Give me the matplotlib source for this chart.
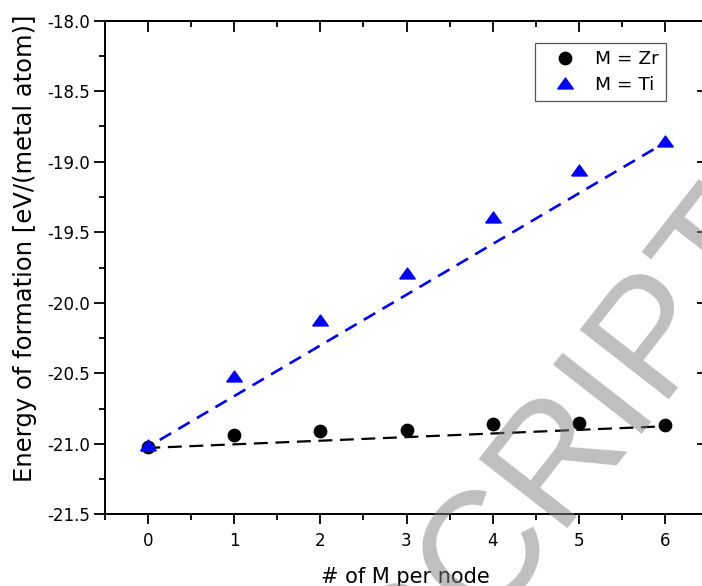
import matplotlib
matplotlib.use("Agg")
import matplotlib.pyplot as plt
from matplotlib.ticker import MultipleLocator, FormatStrFormatter, NullFormatter

plt.rcParams['axes.unicode_minus'] = False
plt.rcParams['lines.scale_dashes'] = False
plt.rcParams['font.family'] = ['DejaVu Sans']

# ---- data ----
n_metal = [0, 1, 2, 3, 4, 5, 6]
energy_zr = [-21.02, -20.94, -20.91, -20.90, -20.86, -20.85, -20.87]
energy_ti = [-21.01, -20.52, -20.12, -19.79, -19.39, -19.06, -18.85]
fit_zr_x = [-0.02, 6.03]
fit_zr_y = [-21.03, -20.875]
fit_ti_x = [-0.08, 5.93]
fit_ti_y = [-21.05, -18.89]
label_zr = "M = Zr"
label_ti = "M = Ti"
xlabel = "# of M per node"
ylabel = "Energy of formation [eV/(metal atom)]"
watermark = "ACCEPTED MANUSCRIPT"

W, H = 702, 586
fig = plt.figure(figsize=(W / 100, H / 100), dpi=100)
ax = fig.add_axes([105 / W, (H - 514.3) / H, 603 / W, 493.6 / H])

ax.set_xlim(-0.5, 6.5)
ax.set_ylim(-21.5, -18.0)

# fit lines
ax.plot(fit_ti_x, fit_ti_y, color='#0000ff', lw=1.9, dashes=(9.5, 6.0), zorder=2)
ax.plot(fit_zr_x, fit_zr_y, color='black', lw=1.6, dashes=(10, 5.5), zorder=2)

tri = [(-1, -0.7), (1, -0.7), (0, 0.7), (-1, -0.7)]
h_zr, = ax.plot(n_metal, energy_zr, linestyle='none', marker='o', ms=8.9,
                color='black', label=label_zr, zorder=3)
h_ti, = ax.plot(n_metal, energy_ti, linestyle='none', marker=tri, ms=11.2,
                color='#0000ff', label=label_ti, zorder=3)

# ticks
ax.xaxis.set_major_locator(MultipleLocator(1))
ax.xaxis.set_minor_locator(MultipleLocator(0.5))
ax.yaxis.set_major_locator(MultipleLocator(0.5))
ax.yaxis.set_minor_locator(MultipleLocator(0.25))
ax.yaxis.set_major_formatter(FormatStrFormatter('%.1f'))
ax.tick_params(which='both', direction='out', width=1.3, top=False, right=False,
               labelsize=12, colors='black')
ax.tick_params(axis='y', which='major', length=8, pad=3.0)
ax.tick_params(axis='y', which='minor', length=4.5)
ax.tick_params(axis='x', which='major', length=7.5, pad=5.5)
ax.tick_params(axis='x', which='minor', length=4)
for s in ax.spines.values():
    s.set_linewidth(1.4)

sec_x = ax.secondary_xaxis('top')
sec_x.xaxis.set_major_locator(MultipleLocator(1))
sec_x.xaxis.set_minor_locator(MultipleLocator(0.5))
sec_x.xaxis.set_major_formatter(NullFormatter())
sec_x.tick_params(which='both', direction='in', width=1.3)
sec_x.tick_params(which='major', length=8)
sec_x.tick_params(which='minor', length=4.5)
sec_x.spines['top'].set_linewidth(1.4)

sec_y = ax.secondary_yaxis('right')
sec_y.yaxis.set_major_locator(MultipleLocator(0.5))
sec_y.yaxis.set_minor_locator(MultipleLocator(0.25))
sec_y.yaxis.set_major_formatter(NullFormatter())
sec_y.tick_params(which='both', direction='in', width=1.3)
sec_y.tick_params(which='major', length=8)
sec_y.tick_params(which='minor', length=4.5)
sec_y.spines['right'].set_linewidth(1.4)

ax.set_xlabel(xlabel, fontsize=15)
ax.set_ylabel(ylabel, fontsize=17.5)
ax.xaxis.set_label_coords(0.498, -0.107)
ax.yaxis.set_label_coords(-0.113, 0.538)

leg = ax.legend(handles=[h_zr, h_ti], loc='upper left',
                bbox_to_anchor=(535 / W, 1 - 43 / H), bbox_transform=fig.transFigure,
                fontsize=13.3, frameon=True, fancybox=False, framealpha=1,
                edgecolor='#555555', borderpad=0.4, handlelength=2.44,
                handletextpad=0.4, labelspacing=0.4, borderaxespad=0, numpoints=1)
leg.get_frame().set_linewidth(0.9)

# watermark (partially visible, as in the reference)
fig.text(790.0 / W, (H - 245.0) / H, watermark, fontsize=118,
         family='Liberation Sans',
         rotation=52, rotation_mode='anchor', ha='right', va='baseline',
         color='#7f7f7f', alpha=0.5, zorder=10)

fig.savefig('out.png', dpi=100)
